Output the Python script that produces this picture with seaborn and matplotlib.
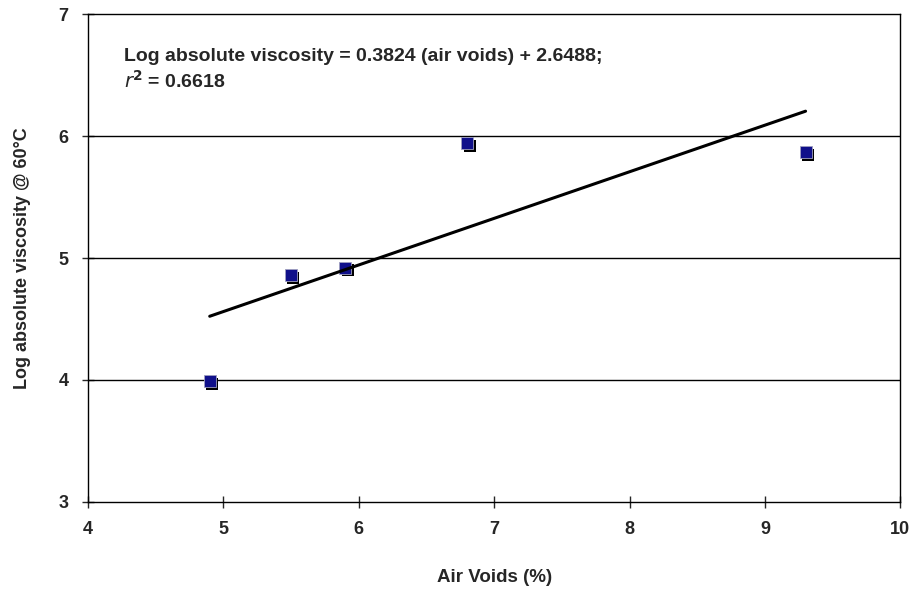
import seaborn as sns
import pandas as pd
import numpy as np
import matplotlib.pyplot as plt
import matplotlib.transforms as mtransforms

air_voids = [4.9, 5.5, 5.9, 6.8, 9.3]
log_visc = [3.99, 4.86, 4.92, 5.94, 5.87]
slope = 0.3824
intercept = 2.6488

df = pd.DataFrame({'air': air_voids, 'visc': log_visc})

sns.set_style("white")
plt.rcParams['font.family'] = ['Liberation Sans', 'DejaVu Sans']

fig = plt.figure(figsize=(9.15, 5.96), dpi=100)
ax = fig.add_axes([0.096, 0.158, 0.888, 0.818])

for y in [4, 5, 6]:
    ax.axhline(y, color='black', lw=1, zorder=1)

# shadow under markers
shadow = mtransforms.offset_copy(ax.transData, fig=fig, x=2.5, y=-2.5, units='dots')
ax.scatter(df['air'], df['visc'], marker='s', s=85, color='black', transform=shadow, zorder=2, linewidths=0)
sns.scatterplot(data=df, x='air', y='visc', marker='s', s=85, color='#10108a',
                edgecolor='#a0a0c0', linewidth=0.6, ax=ax, zorder=3)

xs = np.array([min(air_voids), max(air_voids)])
ax.plot(xs, slope * xs + intercept, color='black', lw=2.2, zorder=4)

ax.set_xlim(4, 10)
ax.set_ylim(3, 7)
ax.set_xticks(range(4, 11))
ax.set_yticks(range(3, 8))
ax.tick_params(direction='inout', length=8, width=1, labelsize=13, pad=10, bottom=True, left=True)
for lab in ax.get_xticklabels() + ax.get_yticklabels():
    lab.set_fontweight('bold')
for sp in ax.spines.values():
    sp.set_color('black')
    sp.set_linewidth(1)

ax.set_xlabel('Air Voids (%)', fontsize=13.5, fontweight='bold', labelpad=22)
ax.set_ylabel('Log absolute viscosity @ 60°C', fontsize=13, fontweight='bold', labelpad=20)

ax.text(4.27, 6.65, 'Log absolute viscosity = 0.3824 (air voids) + 2.6488;',
        fontsize=14, fontweight='bold', va='center')
ax.text(4.27, 6.45, r'$\mathbf{\it{r}}^{\mathbf{2}}$ = 0.6618',
        fontsize=14, fontweight='bold', va='center')

fig.savefig('out.png', dpi=100)
